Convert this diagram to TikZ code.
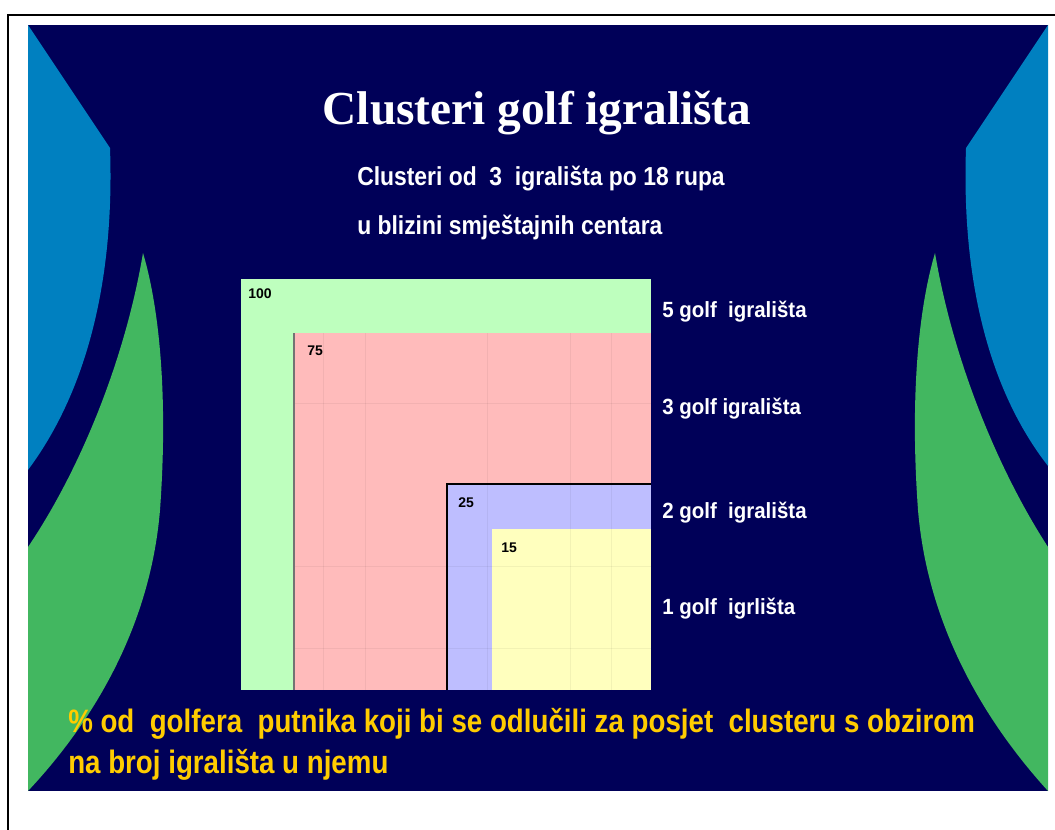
\documentclass[tikz,border=0pt]{standalone}
\usepackage{fontspec}
\setmainfont{Liberation Serif}
\newfontfamily\subfont{Liberation Sans}[FakeStretch=0.88]
\newfontfamily\lblfont{Liberation Sans}[FakeStretch=0.93]
\newfontfamily\botfont{Liberation Sans}[FakeStretch=0.855]
\newfontfamily\numfont{Liberation Sans}
\definecolor{navy}{RGB}{0,0,88}
\definecolor{sideblue}{RGB}{0,128,192}
\definecolor{sidegreen}{RGB}{66,183,96}
\definecolor{cgreen}{RGB}{190,255,190}
\definecolor{cred}{RGB}{255,187,187}
\definecolor{cblue}{RGB}{190,190,255}
\definecolor{cyellow}{RGB}{255,255,190}
\definecolor{gold}{RGB}{255,204,0}
\tikzset{
  titletext/.style={text=white, inner sep=0pt, font=\fontsize{35.5}{40}\selectfont\bfseries},
  subtext/.style={text=white, inner sep=0pt, anchor=base west, font=\subfont\fontsize{19.5}{22}\selectfont\bfseries},
  sidelabel/.style={text=white, inner sep=0pt, anchor=base west, font=\lblfont\fontsize{16.5}{19}\selectfont\bfseries},
  bottext/.style={text=gold, inner sep=0pt, anchor=base west, font=\botfont\fontsize{24.3}{28}\selectfont\bfseries},
  numtext/.style={text=black, inner sep=0pt, anchor=base west, font=\numfont\fontsize{10.5}{12}\selectfont\bfseries},
  gridline/.style={draw=black, opacity=0.05, line width=0.75pt}
}
\begin{document}
\begin{tikzpicture}[x=0.75pt,y=-0.75pt]
\useasboundingbox (0,0) rectangle (1055,830);
\fill[white] (0,0) rectangle (1055,830);
\begin{scope}
\clip (0,0) rectangle (1055,830);
\draw[black, line width=1.5pt] (8,15) rectangle (1090,870);
\end{scope}
% slide background
\fill[navy] (28,25) rectangle (1048,791);
% side shapes
\fill[sideblue] (28,25) -- (110,148) .. controls (114,260) and (95,380) .. (28,470) -- cycle;
\fill[sideblue] (1048,25) -- (966,148) .. controls (962,260) and (981,380) .. (1048,466) -- cycle;
\fill[sidegreen] (143,253) .. controls (160,310) and (168,400) .. (160,510)
   .. controls (150,630) and (90,725) .. (28,791) -- (28,547)
   .. controls (80,470) and (125,360) .. (143,253) -- cycle;
\fill[sidegreen] (935,253) .. controls (918,310) and (910,400) .. (918,510)
   .. controls (928,630) and (988,725) .. (1048,791) -- (1048,547)
   .. controls (998,470) and (953,360) .. (935,253) -- cycle;
% chart
\fill[cgreen] (241,279) rectangle (651,690);
\fill[cred] (294,333) rectangle (651,690);
\fill[cblue] (447,484) rectangle (651,690);
\fill[cyellow] (492,529) rectangle (651,690);
\foreach \gx in {323,365,487,570,611}
  \draw[gridline] (\gx,333) -- (\gx,690);
\foreach \gy in {403,566,648}
  \draw[gridline] (294,\gy) -- (651,\gy);
\draw[black!55, line width=1pt] (294,333) -- (294,690);
\draw[black, line width=1.3pt] (447,690) -- (447,484) -- (651,484);
% numbers
\node[numtext] (n100) at (248,298) {100};
\node[numtext] (n75) at (307,355) {75};
\node[numtext] (n25) at (458,507) {25};
\node[numtext] (n15) at (501,552) {15};
% titles
\node[titletext, anchor=base] (title) at (537,125) {Clusteri golf igrališta};
\node[subtext] (sub1) at (357,186) {Clusteri od\ \ 3\ \ igrališta po 18 rupa};
\node[subtext] (sub2) at (357,235) {u blizini smještajnih centara};
% side labels
\node[sidelabel] (l5) at (662,317) {5 golf\ \ igrališta};
\node[sidelabel] (l3) at (662,414) {3 golf igrališta};
\node[sidelabel] (l2) at (662,518) {2 golf\ \ igrališta};
\node[sidelabel] (l1) at (662,614) {1 golf\ \ igrlišta};
% bottom text
\node[bottext] (bot1) at (68,732) {\% od\ \ golfera\ \ putnika koji bi se odlučili za posjet\ \ clusteru s obzirom};
\node[bottext] (bot2) at (68,773) {na broj igrališta u njemu};
\end{tikzpicture}
\end{document}
